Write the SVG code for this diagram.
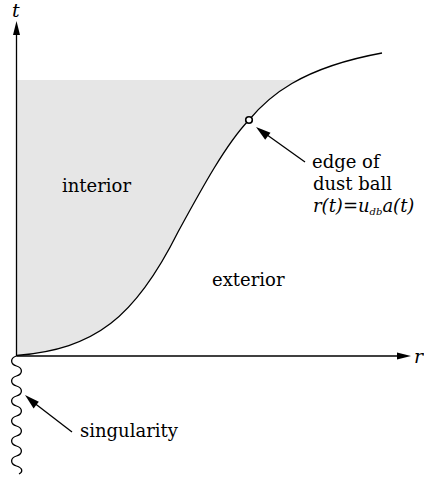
<svg xmlns="http://www.w3.org/2000/svg" width="424" height="477" viewBox="0 0 424 477">
<style>
.it{font-style:italic}
.ln{fill:none;stroke:#000;stroke-width:1.3}
.ah{fill:#000;stroke:none}
</style>
<defs>
<clipPath id="c"><rect x="16.5" y="80" width="400" height="276"/></clipPath>
</defs>
<g id="interior-region">
<path clip-path="url(#c)" fill="#e6e6e6" d="M16.5,355.5 C95,349 135,318 178,232 C202,188 226,144 249,120 C268,97 300,68 382,53 L382,0 L16.5,0 Z"/>
</g>
<g id="connectors">
<path class="ln" d="M16.5,356 L16.5,33"/>
<path class="ah" d="M16.5,21 L20,35 L13,35 Z"/>
<path class="ln" d="M16.5,356 L398,356"/>
<path class="ah" d="M411,356 L397,352.5 L397,359.5 Z"/>
<path class="ln" d="M305,162 L263,132"/>
<path class="ah" d="M256,127 L270.5,132.8 L265.2,139.8 Z"/>
<path class="ln" d="M72,432 L33,402"/>
<path class="ah" d="M25,395 L38.8,401.8 L33.6,408.6 Z"/>
</g>
<g id="edge-curve">
<path class="ln" d="M16.5,355.5 C95,349 135,318 178,232 C202,188 226,144 249,120 C268,97 300,68 382,53"/>
<circle cx="249" cy="120" r="3.3" fill="#fff" stroke="#000" stroke-width="1.6"/>
</g>
<g id="singularity-line">
<path class="ln" d="M16.5,356 C10,358 10,364 16.5,366 C23,368 23,374 16.5,376 C10,378 10,384 16.5,386 C23,388 23,394 16.5,396 C10,398 10,404 16.5,406 C23,408 23,414 16.5,416 C10,418 10,424 16.5,426 C23,428 23,434 16.5,436 C10,438 10,444 16.5,446 C23,448 23,454 16.5,456 C10,458 10,464 16.5,466 C23,468 23,472 19,474"/>
</g>
<g id="labels" font-family="DejaVu Serif, serif" font-size="18" fill="#000">
<text class="it" x="12" y="17" font-size="19">t</text>
<text class="it" x="414" y="363" font-size="19">r</text>
<text x="62" y="192">interior</text>
<text x="212" y="286">exterior</text>
<text x="80" y="437">singularity</text>
<text x="312" y="168">edge of</text>
<text x="313" y="189.5">dust ball</text>
<text class="it" x="313" y="211.5">r(t)=u<tspan font-size="10" dy="3">db</tspan><tspan dy="-3">a(t)</tspan></text>
</g>
</svg>
